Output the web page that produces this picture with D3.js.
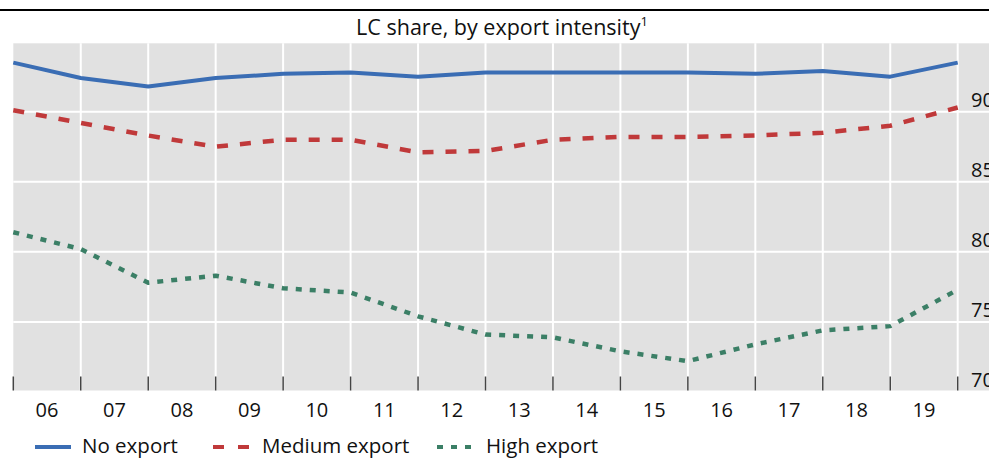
<!DOCTYPE html>
<html>
<head>
<meta charset="utf-8">
<script src="https://cdn.jsdelivr.net/npm/d3@7"></script>
<style>
  body { margin: 0; background: #fff; }
  svg { display: block; font-family: "Open Sans", "Noto Sans", sans-serif; }
</style>
</head>
<body>
<div id="chart"></div>
<script>
// data points sit on year boundaries, labels sit mid-year
const periods = [2006, 2007, 2008, 2009, 2010, 2011, 2012, 2013, 2014, 2015, 2016, 2017, 2018, 2019, 2020];
const yearLabels = ["06", "07", "08", "09", "10", "11", "12", "13", "14", "15", "16", "17", "18", "19"];
const noExport = [93.5, 92.4, 91.8, 92.4, 92.7, 92.8, 92.5, 92.8, 92.8, 92.8, 92.8, 92.7, 92.9, 92.5, 93.5];
const mediumExport = [90.1, 89.2, 88.3, 87.5, 88.0, 88.0, 87.1, 87.2, 88.0, 88.2, 88.2, 88.3, 88.5, 89.0, 90.3];
const highExport = [81.4, 80.2, 77.8, 78.3, 77.4, 77.1, 75.4, 74.1, 73.9, 72.9, 72.2, 73.4, 74.4, 74.7, 77.3];
const yTicks = [70, 75, 80, 85, 90];
const seriesNames = ["No export", "Medium export", "High export"];

const W = 989, H = 458;
const plot = { left: 13.3, right: 989, top: 43.3, bottom: 390.5 };

const svg = d3.select("#chart").append("svg")
    .attr("width", W)
    .attr("height", H);

const x = d3.scaleLinear().domain([2006, 2020]).range([13.3, 957.7]);
const y = d3.scaleLinear().domain([70, 90]).range([392, 111.7]);

// top rule
svg.append("line")
    .attr("x1", 0).attr("x2", W)
    .attr("y1", 10).attr("y2", 10)
    .attr("stroke", "#000")
    .attr("stroke-width", 2);

// title
const title = svg.append("text")
    .attr("x", 502)
    .attr("y", 35)
    .attr("text-anchor", "middle")
    .style("font-size", "21.5px")
    .attr("fill", "#111");
title.append("tspan").text("LC share, by export intensity");
title.append("tspan").attr("dy", -9).style("font-size", "13px").text("1");

// plot background
svg.append("rect")
    .attr("x", plot.left)
    .attr("y", plot.top)
    .attr("width", plot.right - plot.left)
    .attr("height", plot.bottom - plot.top)
    .attr("fill", "#e1e1e1");

// grid
svg.append("g")
    .selectAll("line")
    .data(yTicks.filter(d => d > 70))
    .join("line")
    .attr("x1", plot.left).attr("x2", plot.right)
    .attr("y1", d => y(d)).attr("y2", d => y(d))
    .attr("stroke", "#fff")
    .attr("stroke-width", 2);

svg.append("g")
    .selectAll("line")
    .data(periods.slice(1))
    .join("line")
    .attr("x1", d => x(d)).attr("x2", d => x(d))
    .attr("y1", plot.top).attr("y2", plot.bottom)
    .attr("stroke", "#fff")
    .attr("stroke-width", 2);

// x axis: ticks on boundaries, labels in the middle of each year
svg.append("g")
    .selectAll("line")
    .data(periods)
    .join("line")
    .attr("x1", d => x(d)).attr("x2", d => x(d))
    .attr("y1", plot.bottom - 14).attr("y2", plot.bottom)
    .attr("stroke", "#444")
    .attr("stroke-width", 1.5);

svg.append("g")
    .selectAll("text")
    .data(yearLabels)
    .join("text")
    .attr("x", (d, i) => x(periods[i] + 0.5))
    .attr("y", 417)
    .attr("text-anchor", "middle")
    .style("font-size", "20px")
    .attr("fill", "#111")
    .text(d => d);

// y axis labels on the right, sitting just above their gridline
svg.append("g")
    .selectAll("text")
    .data(yTicks)
    .join("text")
    .attr("x", 971)
    .attr("y", d => y(d) - 5)
    .style("font-size", "20px")
    .attr("fill", "#111")
    .text(d => d);

// lines
const series = [
    { name: seriesNames[0], values: noExport, color: "#3a6db4", dash: null, width: 4 },
    { name: seriesNames[1], values: mediumExport, color: "#c0393a", dash: "11,12", width: 4.5 },
    { name: seriesNames[2], values: highExport, color: "#3b7f66", dash: "6,8", width: 4.5 }
];

const line = d3.line()
    .x((d, i) => x(periods[i]))
    .y(d => y(d));

svg.append("g")
    .selectAll("path")
    .data(series)
    .join("path")
    .attr("d", d => line(d.values))
    .attr("fill", "none")
    .attr("stroke", d => d.color)
    .attr("stroke-width", d => d.width)
    .attr("stroke-dasharray", d => d.dash)
    .attr("stroke-linejoin", "round");

// legend
const legendX = [35, 213, 437];
const legend = svg.append("g")
    .selectAll("g")
    .data(series)
    .join("g")
    .attr("transform", (d, i) => `translate(${legendX[i]},447)`);

legend.append("line")
    .attr("x1", 0).attr("x2", 36)
    .attr("y1", 0).attr("y2", 0)
    .attr("stroke", d => d.color)
    .attr("stroke-width", 4)
    .attr("stroke-dasharray", (d, i) => i === 1 ? "11,14" : d.dash);

legend.append("text")
    .attr("x", (d, i) => i === 0 ? 47 : 49)
    .attr("y", 6)
    .style("font-size", "20.5px")
    .attr("fill", "#111")
    .text(d => d.name);
</script>
</body>
</html>
